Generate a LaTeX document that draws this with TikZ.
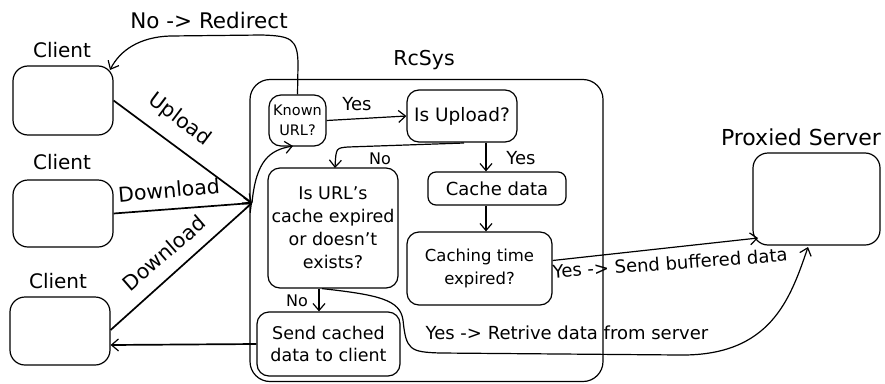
\documentclass[tikz,border=0pt]{standalone}
\usepackage{fontspec}
\setmainfont{DejaVu Sans}
\usetikzlibrary{arrows.meta}
\begin{document}
\begin{tikzpicture}[x=1pt,y=-1pt,
  box/.style={draw, line width=1.2pt, rounded corners=12pt, inner sep=2pt, align=center,
    font=\fontsize{17}{23}\selectfont},
  ttl/.style={font=\fontsize{20}{24}\selectfont},
  lbl/.style={font=\fontsize{18}{22}\selectfont, inner sep=1pt},
  conn/.style={line width=1.2pt, -{Straight Barb[length=7pt,width=12pt,line width=1.2pt]}},
  thick conn/.style={conn, line width=1.7pt},
]
\useasboundingbox (0,0) rectangle (885,383);

% clients
\node[box, minimum width=100pt, minimum height=69pt, rounded corners=15pt] (c1) at (63,100.5) {};
\node[box, minimum width=100pt, minimum height=67pt, rounded corners=15pt] (c2) at (63,213.5) {};
\node[box, minimum width=100pt, minimum height=68pt, rounded corners=15pt] (c3) at (60,331) {};
\node[ttl] (c1l) at (62,50) {Client};
\node[ttl] (c2l) at (62,162) {Client};
\node[ttl] (c3l) at (58,281) {Client};

% RcSys
\node[box, minimum width=353pt, minimum height=302pt, rounded corners=20pt] (rc) at (426.5,230.5) {};
\node[ttl, font=\fontsize{20.5}{24}\selectfont] (rcl) at (424,60) {RcSys};

% proxied server
\node[box, minimum width=127pt, minimum height=92pt, rounded corners=15pt] (px) at (816.5,199) {};
\node[ttl, font=\fontsize{22}{26}\selectfont] (pxl) at (801,137) {Proxied Server};

% inner boxes
\node[box, minimum width=57pt, minimum height=51pt, font=\fontsize{14.5}{20}\selectfont, inner sep=0pt] (kn) at (297.5,120.5) {Known\\URL?};
\node[box, minimum width=110pt, minimum height=52pt, font=\fontsize{18.5}{23}\selectfont] (up) at (462,116) {Is Upload?};
\node[box, minimum width=138pt, minimum height=33pt, rounded corners=8pt, font=\fontsize{18}{23}\selectfont] (cd) at (497,188.5) {Cache data};
\node[box, minimum width=130pt, minimum height=120pt, font=\fontsize{17.5}{23}\selectfont] (iu) at (333,228) {Is URL's\\cache expired\\or doesn't\\exists?};
\node[box, minimum width=145pt, minimum height=73pt, font=\fontsize{16.5}{23}\selectfont] (ct) at (479.5,268.5) {Caching time\\expired?};
\node[box, minimum width=143pt, minimum height=64pt, font=\fontsize{17.5}{22}\selectfont] (sc) at (328.5,344) {Send cached\\data to client};

% hub
\coordinate (hub) at (252,203);

% client connectors
\draw[thick conn] (c1.east) -- (hub);
\draw[thick conn] (c2.east) -- (hub);
\draw[thick conn] (c3.east |- 0,330) -- (hub);
\node[lbl, font=\fontsize{20.5}{24}\selectfont, rotate=-37] (lup) at (180,120) {Upload};
\node[lbl, font=\fontsize{20.5}{24}\selectfont, rotate=5] (ld2) at (169,190) {Download};
\node[lbl, font=\fontsize{20.5}{24}\selectfont, rotate=41] (ld3) at (164,253) {Download};

% hub to known
\draw[conn] (hub) .. controls (256,160) and (270,150) .. (293,146);

% redirect
\draw[conn] (kn.north) -- (298,65) .. controls (298,38) and (290,36) .. (262,35)
  -- (170,36) .. controls (140,37) and (120,50) .. (110,70);
\node[lbl, font=\fontsize{21.5}{24}\selectfont] (lred) at (209,20) {No -> Redirect};

% known -> upload
\draw[conn] (kn.east) -- (up.west);
\node[lbl] (ly1) at (357,104) {Yes};

% upload -> is url (No)
\draw[conn] (464,143) -- (348,147) .. controls (336,148) .. (335,168);
\node[lbl, font=\fontsize{16}{20}\selectfont] (ln1) at (380,159) {No};

% upload -> cache (Yes)
\draw[conn] ([xshift=24pt]up.south) -- ([xshift=-11pt]cd.north);
\node[lbl] (ly2) at (521,158) {Yes};

% cache -> caching time
\draw[conn] ([xshift=-11pt]cd.south) -- ([xshift=6.5pt]ct.north);

% caching time -> proxy
\draw[conn] ([shift={(0,-8)}]ct.east) -- (758,238);
\node[lbl, rotate=4.2] (lsb) at (670,263) {Yes -> Send buffered data};

% is url -> send cached (No)
\draw[conn] ([xshift=-14pt]iu.south) -- ([xshift=-9.5pt]sc.north);
\node[lbl, font=\fontsize{16}{20}\selectfont] (ln2) at (297,301) {No};

% is url -> proxy (Yes retrieve)
\draw[conn] ([xshift=-11pt]iu.south) .. controls (380,295) and (400,300) .. (403,320)
  .. controls (406,350) and (410,352) .. (440,353) -- (680,355)
  .. controls (770,356) and (790,300) .. (808,247);
\node[lbl] (lrt) at (567,333) {Yes -> Retrive data from server};

% send cached -> client 3
\draw[thick conn] (sc.west) -- (c3.east |- 0,345);
\end{tikzpicture}
\end{document}
